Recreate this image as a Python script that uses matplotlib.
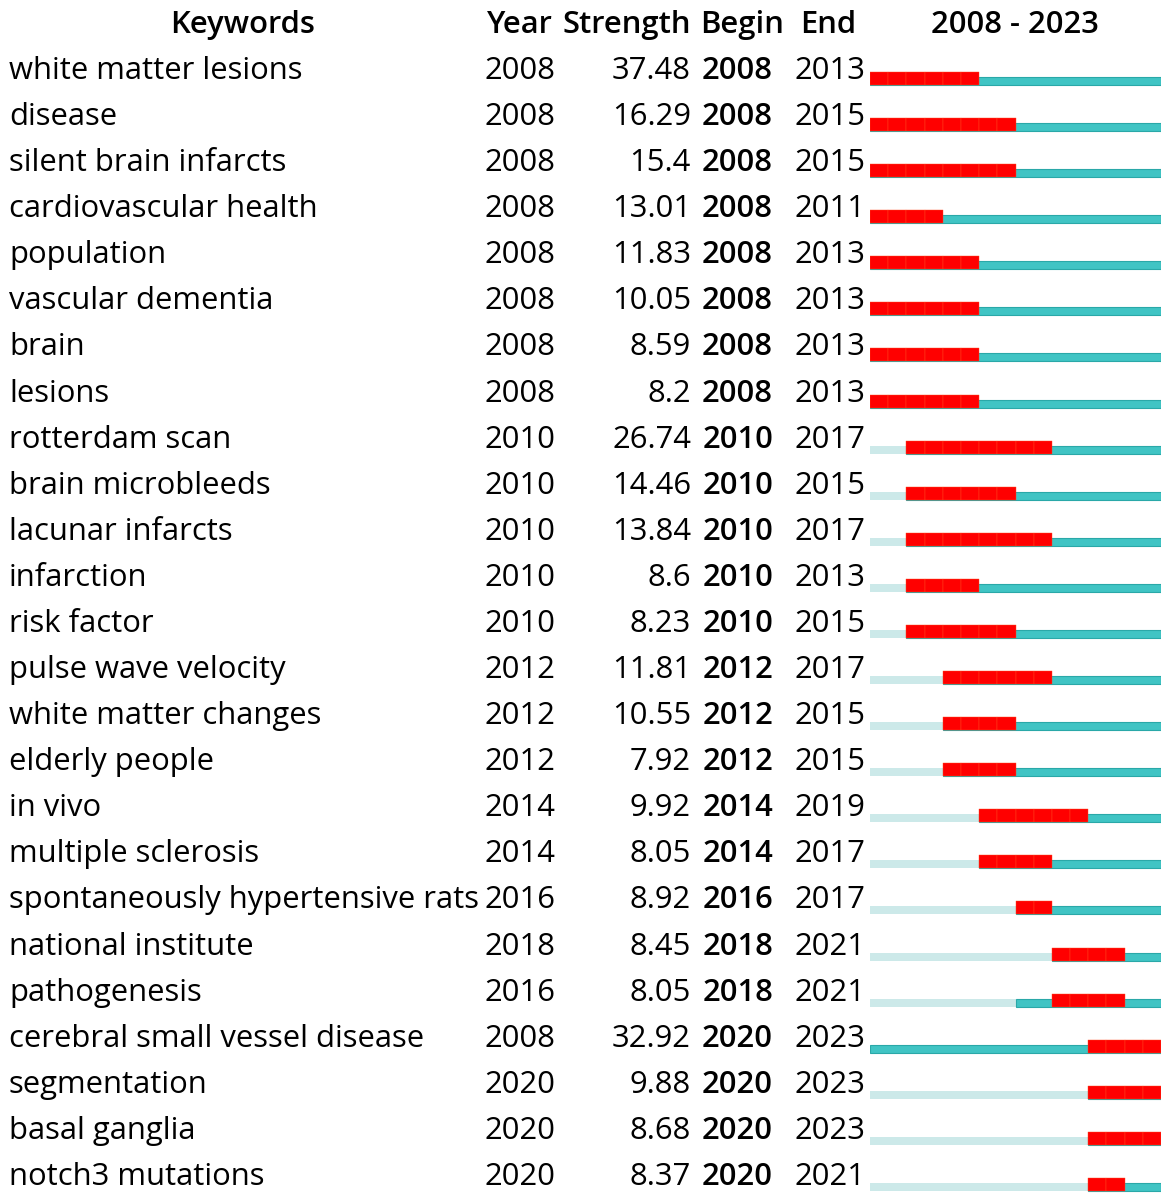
import matplotlib
matplotlib.use('Agg')
import matplotlib.pyplot as plt
from matplotlib.patches import Rectangle

keywords = ['white matter lesions', 'disease', 'silent brain infarcts', 'cardiovascular health',
            'population', 'vascular dementia', 'brain', 'lesions', 'rotterdam scan',
            'brain microbleeds', 'lacunar infarcts', 'infarction', 'risk factor',
            'pulse wave velocity', 'white matter changes', 'elderly people', 'in vivo',
            'multiple sclerosis', 'spontaneously hypertensive rats', 'national institute',
            'pathogenesis', 'cerebral small vessel disease', 'segmentation', 'basal ganglia',
            'notch3 mutations']
years = [2008, 2008, 2008, 2008, 2008, 2008, 2008, 2008, 2010, 2010, 2010, 2010, 2010,
         2012, 2012, 2012, 2014, 2014, 2016, 2018, 2016, 2008, 2020, 2020, 2020]
strength = ['37.48', '16.29', '15.4', '13.01', '11.83', '10.05', '8.59', '8.2', '26.74',
            '14.46', '13.84', '8.6', '8.23', '11.81', '10.55', '7.92', '9.92', '8.05',
            '8.92', '8.45', '8.05', '32.92', '9.88', '8.68', '8.37']
begin = [2008, 2008, 2008, 2008, 2008, 2008, 2008, 2008, 2010, 2010, 2010, 2010, 2010,
         2012, 2012, 2012, 2014, 2014, 2016, 2018, 2018, 2020, 2020, 2020, 2020]
end = [2013, 2015, 2015, 2011, 2013, 2013, 2013, 2013, 2017, 2015, 2017, 2013, 2015,
       2017, 2015, 2015, 2019, 2017, 2017, 2021, 2021, 2023, 2023, 2023, 2021]
first_year, last_year = 2008, 2023

W, H = 1169, 1201
fig = plt.figure(figsize=(W / 100, H / 100), dpi=100)
plt.rcParams['font.family'] = ['Open Sans', 'DejaVu Sans']

ax = fig.add_axes([0, 0, 1, 1])
ax.set_xlim(0, W)
ax.set_ylim(H, 0)
ax.axis('off')

fs = 22.3
hfs = 22.3
y_head = 33
y0, dy = 79, 46.08

hd = dict(va='baseline', fontsize=hfs, fontweight='semibold')
ax.text(243, y_head, 'Keywords', ha='center', **hd)
ax.text(487, y_head, 'Year', ha='left', **hd)
ax.text(691, y_head, 'Strength', ha='right', **hd)
ax.text(700, y_head, 'Begin', ha='left', **hd)
ax.text(800, y_head, 'End', ha='left', **hd)
ax.text(1015, y_head, f'{first_year} - {last_year}', ha='center', **hd)

for i, kw in enumerate(keywords):
    y = y0 + i * dy
    ax.text(9, y, kw, ha='left', va='baseline', fontsize=fs)
    ax.text(484, y, str(years[i]), ha='left', va='baseline', fontsize=fs)
    ax.text(691, y, strength[i], ha='right', va='baseline', fontsize=fs)
    ax.text(773, y, str(begin[i]), ha='right', va='baseline', fontsize=fs,
            fontweight='semibold')
    ax.text(795, y, str(end[i]), ha='left', va='baseline', fontsize=fs)

# burst bars: x in years, y in pixel rows
bx = fig.add_axes([870 / W, 0, 291 / W, 1])
bx.set_xlim(first_year, last_year + 1)
bx.set_ylim(H, 0)
bx.axis('off')

light = '#cce9e9'
teal = '#40c4c4'
teal_edge = '#2aa8a8'
red = '#ff0000'
for i in range(len(keywords)):
    yb = 85 + i * dy
    if years[i] > first_year:
        bx.add_patch(Rectangle((first_year, yb - 8), years[i] - first_year, 8,
                               facecolor=light, edgecolor='none'))
    bx.add_patch(Rectangle((years[i], yb - 8), last_year + 1 - years[i], 8,
                           facecolor=teal, edgecolor=teal_edge, linewidth=0.8))
    bx.bar(list(range(begin[i], end[i] + 1)), 13, width=1, bottom=yb - 13, align='edge',
           color=red, edgecolor='#ff4a20', linewidth=0.3)

fig.savefig('out.png', dpi=100)
